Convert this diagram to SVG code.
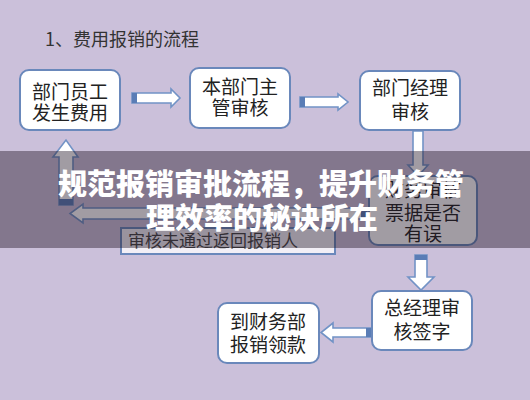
<svg xmlns="http://www.w3.org/2000/svg" width="530" height="400" viewBox="0 0 530 400">
<style>
.bg{fill:#cbc0da}
.box{fill:#ffffff;stroke:#6a88bb;stroke-width:2}
.t{font-family:"Noto Sans CJK SC","Noto Sans",sans-serif;font-size:19px;fill:#222;text-anchor:middle}
.arr{fill:#ffffff;stroke:#7293c6;stroke-width:1.6;stroke-linejoin:miter}
.tail{fill:#5a7db6}
.title{font-family:"Noto Sans CJK SC","Noto Sans",sans-serif;font-size:18px;fill:#333}
.ov{font-family:"Noto Sans CJK SC","Noto Sans",sans-serif;font-size:29px;font-weight:900;fill:#ffffff;text-anchor:middle}
</style>
<rect class="bg" x="0" y="0" width="530" height="400"/>
<text class="title" x="45" y="46">1、费用报销的流程</text>

<g id="connectors">
  <!-- box1 -> box2 -->
  <path class="arr" d="M132,93 H171 V89 L180,98 L171,107 V103 H132 Z"/>
  <rect class="tail" x="132" y="93" width="5" height="10"/>
  <!-- box2 -> box3 -->
  <path class="arr" d="M300,97 H338 V94 L348,102 L338,110 V107 H300 Z"/>
  <rect class="tail" x="300" y="97" width="5" height="10"/>
  <!-- box3 -> box4 -->
  <path class="arr" d="M413,131 V165 H408 L418,176 L428,165 H423 V131 Z"/>
  <!-- box4 -> back (left) -->
  <path class="arr" d="M367,208 H83 V204 L70,213.5 L83,223 V219 H367 Z"/>
  <rect class="tail" x="361" y="208" width="6" height="11"/>
  <!-- up to box1 -->
  <path class="arr" d="M59,205 V157 H53 L66,140 L78,157 H73 V205 Z"/>
  <rect class="tail" x="59" y="199" width="14" height="6"/>
  <!-- box4 -> box5 -->
  <path class="arr" d="M415,255 V277 H408 L421,290 L434,277 H427 V255 Z"/>
  <rect class="tail" x="415" y="255" width="12" height="5"/>
  <!-- box5 -> box6 -->
  <path class="arr" d="M371,328 H333 V323 L321,332.5 L333,342 V337 H371 Z"/>
  <rect class="tail" x="366" y="328" width="5" height="9"/>
</g>

<g id="n1">
  <rect class="box" x="20" y="70" width="100" height="60" rx="9"/>
  <text class="t" x="70" y="99">部门员工</text>
  <text class="t" x="70" y="120">发生费用</text>
</g>
<g id="n2">
  <rect class="box" x="190" y="68" width="100" height="60" rx="9"/>
  <text class="t" x="240" y="94">本部门主</text>
  <text class="t" x="240" y="115">管审核</text>
</g>
<g id="n3">
  <rect class="box" x="360" y="71" width="100" height="59" rx="9"/>
  <text class="t" x="410" y="95">部门经理</text>
  <text class="t" x="410" y="119">审核</text>
</g>
<g id="n4">
  <rect class="box" x="369" y="176" width="108" height="69" rx="9"/>
  <text class="t" x="423" y="197">财务审核</text>
  <text class="t" x="423" y="220">票据是否</text>
  <text class="t" x="423" y="241">有误</text>
</g>
<g id="n5">
  <rect class="box" x="372" y="291" width="100" height="59" rx="9"/>
  <text class="t" x="422" y="315">总经理审</text>
  <text class="t" x="422" y="339">核签字</text>
</g>
<g id="n6">
  <rect class="box" x="218" y="303" width="101" height="60" rx="9"/>
  <text class="t" x="268" y="329">到财务部</text>
  <text class="t" x="268" y="352">报销领款</text>
</g>
<g id="n7">
  <rect x="121" y="228" width="214" height="26" fill="#f2eff6" stroke="#6a88bb" stroke-width="2"/>
  <text x="128" y="247" font-family="'Noto Sans CJK SC','Noto Sans',sans-serif" font-size="17" fill="#444">审核未通过返回报销人</text>
</g>

<rect x="0" y="151" width="530" height="97" fill="#1e1424" fill-opacity="0.42"/>
<text class="ov" x="261" y="195">规范报销审批流程，提升财务管</text>
<text class="ov" x="262" y="229">理效率的秘诀所在</text>
</svg>
